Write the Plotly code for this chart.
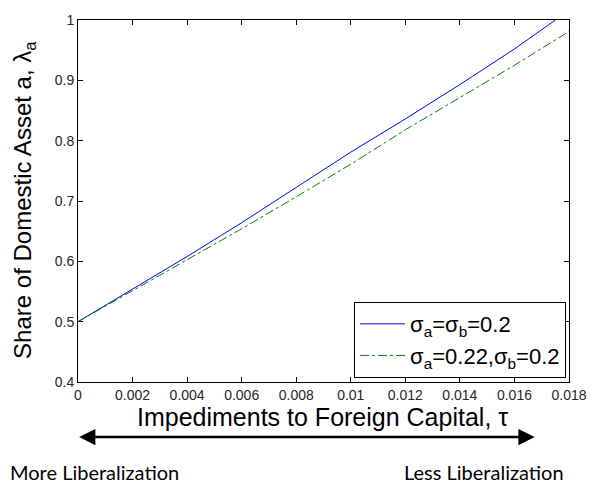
import plotly.graph_objects as go

# Portfolio share of the domestic asset against the impediment to foreign capital
tau_equal = [0.0, 0.002, 0.004, 0.006, 0.008, 0.010, 0.012, 0.014, 0.016, 0.0175]
share_equal = [0.500, 0.554, 0.608, 0.664, 0.722, 0.781, 0.836, 0.893, 0.952, 1.000]

tau_high = [0.0, 0.002, 0.004, 0.006, 0.008, 0.010, 0.012, 0.014, 0.016, 0.018]
share_high = [0.500, 0.551, 0.602, 0.654, 0.707, 0.761, 0.818, 0.872, 0.925, 0.981]

x_ticks = [0, 0.002, 0.004, 0.006, 0.008, 0.010, 0.012, 0.014, 0.016, 0.018]
x_tick_text = ["0", "0.002", "0.004", "0.006", "0.008", "0.01", "0.012", "0.014", "0.016", "0.018"]
y_ticks = [0.4, 0.5, 0.6, 0.7, 0.8, 0.9, 1.0]
y_tick_text = ["0.4", "0.5", "0.6", "0.7", "0.8", "0.9", "1"]

SANS = "Liberation Sans"

fig = go.Figure()
fig.add_trace(go.Scatter(
    x=tau_equal, y=share_equal, mode="lines",
    name="σ<sub>a</sub>=σ<sub>b</sub>=0.2",
    line=dict(color="#0000FF", width=1),
))
fig.add_trace(go.Scatter(
    x=tau_high, y=share_high, mode="lines",
    name="σ<sub>a</sub>=0.22,σ<sub>b</sub>=0.2",
    line=dict(color="#008000", width=1, dash="dashdot"),
))

axis_common = dict(
    showgrid=False, zeroline=False,
    showline=True, linecolor="black", linewidth=1, mirror="ticks",
    ticks="inside", ticklen=5, tickcolor="black",
    tickfont=dict(family=SANS, size=14, color="#262626"),
)

fig.update_xaxes(range=[0, 0.018], tickvals=x_ticks, ticktext=x_tick_text, **axis_common)
fig.update_yaxes(range=[0.4, 1.0], tickvals=y_ticks, ticktext=y_tick_text, **axis_common)

# Axis titles
fig.add_annotation(
    xref="paper", yref="paper", x=0.497, y=-0.096,
    xanchor="center", yanchor="middle", showarrow=False,
    text="Impediments to Foreign Capital, τ",
    font=dict(family=SANS, size=25, color="black"),
)
fig.add_annotation(
    xref="paper", yref="paper", x=-0.108, y=0.503,
    xanchor="center", yanchor="middle", showarrow=False, textangle=-90,
    text="Share of Domestic Asset a, λ<sub>a</sub>",
    font=dict(family=SANS, size=24, color="black"),
)

# Double-headed arrow spanning the liberalization direction
fig.add_annotation(
    xref="paper", yref="paper", x=0.930, y=-0.152,
    axref="pixel", ayref="pixel", ax=-457, ay=0,
    text="", showarrow=True, arrowside="end+start",
    arrowhead=2, arrowsize=1.3, arrowwidth=2.5, arrowcolor="black",
)
fig.add_annotation(
    xref="paper", yref="paper", x=-0.143, y=-0.248,
    xanchor="left", yanchor="middle", showarrow=False,
    text="More Liberalization",
    font=dict(family="Lato", size=20, color="black"),
)
fig.add_annotation(
    xref="paper", yref="paper", x=0.659, y=-0.248,
    xanchor="left", yanchor="middle", showarrow=False,
    text="Less Liberalization",
    font=dict(family="Lato", size=20, color="black"),
)

fig.update_layout(
    width=599, height=487,
    margin=dict(l=78, r=19, t=14, b=105),
    paper_bgcolor="white", plot_bgcolor="white",
    showlegend=True,
    legend=dict(
        x=0.994, y=0.011, xanchor="right", yanchor="bottom",
        bgcolor="white", bordercolor="black", borderwidth=1,
        font=dict(family=SANS, size=22, color="black"),
        itemwidth=45, tracegroupgap=0,
    ),
)

fig.write_html("out.html")
